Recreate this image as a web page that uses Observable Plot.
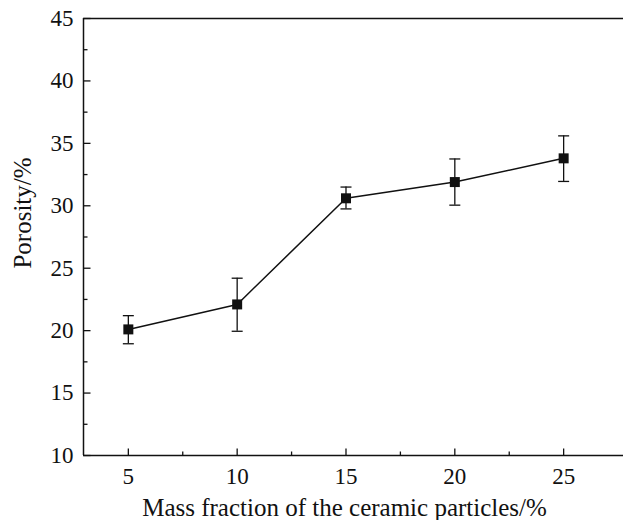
<!DOCTYPE html>
<html>
<head>
<meta charset="utf-8">
<script src="https://cdn.jsdelivr.net/npm/d3@7"></script>
<script src="https://cdn.jsdelivr.net/npm/@observablehq/plot@0.6"></script>
<style>
  html, body { margin: 0; padding: 0; background: #fff; }
  #chart svg { display: block; }
</style>
</head>
<body>
<div id="chart"></div>
<script>
// ---- data ----
const massFraction = [5, 10, 15, 20, 25];
const porosity     = [20.1, 22.1, 30.6, 31.9, 33.8];
const errLow       = [18.95, 19.95, 29.75, 30.05, 31.95];
const errHigh      = [21.2, 24.2, 31.5, 33.75, 35.6];
const yMajorTicks  = [10, 15, 20, 25, 30, 35, 40, 45];
const yMinorTicks  = [12.5, 17.5, 22.5, 27.5, 32.5, 37.5, 42.5];
const xMajorTicks  = [5, 10, 15, 20, 25];
const xMinorTicks  = [7.5, 12.5, 17.5, 22.5];
const xTitle = "Mass fraction of the ceramic particles/%";
const yTitle = "Porosity/%";

const rows = massFraction.map((x, i) => ({x, y: porosity[i], lo: errLow[i], hi: errHigh[i]}));

const X_DOMAIN = [2.94, 27.75];
const Y_DOMAIN = [10, 45];
const INK = "#111";
const FONT = "'Liberation Serif', 'Times New Roman', serif";

// custom stroke-only symbols (pixel-based)
const line = (x0, y0, x1, y1) => ({draw(ctx) { ctx.moveTo(x0, y0); ctx.lineTo(x1, y1); }});
const capSym = line(-5.5, 0, 5.5, 0);
const yMajorSym = line(0, 0, 7, 0);
const yMinorSym = line(0, 0, 4, 0);
const xMajorSym = line(0, 0, 0, -7);
const xMinorSym = line(0, 0, 0, -4);

const chart = Plot.plot({
  width: 623,
  height: 520,
  marginLeft: 83,
  marginRight: 0,
  marginTop: 18,
  marginBottom: 65,
  style: {fontFamily: FONT, fontSize: "23px", color: INK, background: "#fff"},
  x: {domain: X_DOMAIN},
  y: {domain: Y_DOMAIN},
  marks: [
    // frame lines: left, bottom, top
    Plot.ruleX([X_DOMAIN[0]], {stroke: INK, strokeWidth: 1.5}),
    Plot.ruleY([Y_DOMAIN[0]], {stroke: INK, strokeWidth: 1.5}),
    Plot.ruleY([Y_DOMAIN[1]], {stroke: INK, strokeWidth: 1.5}),
    // inward ticks
    Plot.dot(yMajorTicks, {x: () => X_DOMAIN[0], y: d => d, symbol: yMajorSym, stroke: INK, strokeWidth: 1.3, fill: "none"}),
    Plot.dot(yMinorTicks, {x: () => X_DOMAIN[0], y: d => d, symbol: yMinorSym, stroke: INK, strokeWidth: 1.3, fill: "none"}),
    Plot.dot(xMajorTicks, {x: d => d, y: () => Y_DOMAIN[0], symbol: xMajorSym, stroke: INK, strokeWidth: 1.3, fill: "none"}),
    Plot.dot(xMinorTicks, {x: d => d, y: () => Y_DOMAIN[0], symbol: xMinorSym, stroke: INK, strokeWidth: 1.3, fill: "none"}),
    // tick labels
    Plot.axisY(yMajorTicks, {anchor: "left", tickSize: 0, tickPadding: 10, fontSize: 23, fill: INK, label: null}),
    Plot.axisX(xMajorTicks, {anchor: "bottom", tickSize: 0, tickPadding: 12, fontSize: 23, fill: INK, label: null}),
    // axis titles
    Plot.text([yTitle], {frameAnchor: "left", textAnchor: "middle", lineAnchor: "middle", dx: -61, dy: -24, rotate: -90, fontSize: 25, fill: INK}),
    Plot.text([xTitle], {frameAnchor: "bottom", textAnchor: "middle", lineAnchor: "middle", dx: -9, dy: 52, fontSize: 25, fill: INK}),
    // error bars
    Plot.ruleX(rows, {x: "x", y1: "lo", y2: "hi", stroke: INK, strokeWidth: 1.3}),
    Plot.dot(rows, {x: "x", y: "lo", symbol: capSym, stroke: INK, strokeWidth: 1.3, fill: "none"}),
    Plot.dot(rows, {x: "x", y: "hi", symbol: capSym, stroke: INK, strokeWidth: 1.3, fill: "none"}),
    // data line and markers
    Plot.line(rows, {x: "x", y: "y", stroke: INK, strokeWidth: 1.5}),
    Plot.dot(rows, {x: "x", y: "y", symbol: "square", r: 5.64, fill: INK, stroke: "none"})
  ]
});
document.getElementById("chart").appendChild(chart);
</script>
</body>
</html>
